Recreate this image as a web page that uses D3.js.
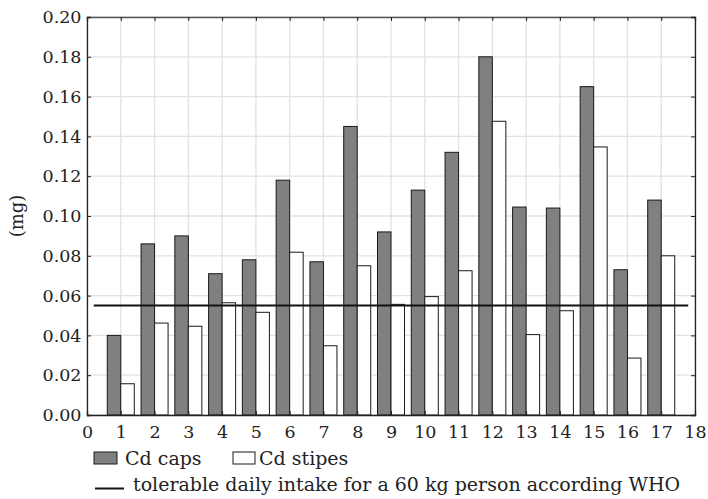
<!DOCTYPE html>
<html>
<head>
<meta charset="utf-8">
<script src="https://cdn.jsdelivr.net/npm/d3@7"></script>
<style>
  body { margin: 0; background: #fff; }
  svg text { font-family: "DejaVu Serif", "Liberation Serif", serif; fill: #222; }
</style>
</head>
<body>
<div id="chart"></div>
<script>
// sample numbers on x axis
var samples = [1, 2, 3, 4, 5, 6, 7, 8, 9, 10, 11, 12, 13, 14, 15, 16, 17];
// Cd content (mg)
var capsValues = [0.040, 0.086, 0.090, 0.071, 0.078, 0.118, 0.077, 0.145, 0.092,
                  0.113, 0.132, 0.180, 0.1045, 0.104, 0.165, 0.073, 0.108];
var stipesValues = [0.0157, 0.0462, 0.0446, 0.0564, 0.0516, 0.0818, 0.0348, 0.075, 0.0556,
                    0.0595, 0.0725, 0.1476, 0.0404, 0.0524, 0.1347, 0.0286, 0.080];
var whoLimit = 0.055;
var whoRange = [0.2, 17.8];
var xTicks = d3.range(0, 19);
var yTicks = [0, 0.02, 0.04, 0.06, 0.08, 0.10, 0.12, 0.14, 0.16, 0.18, 0.20];

var W = 708, H = 499;
var margin = { top: 17, right: 13, bottom: 84, left: 87 };
var innerW = W - margin.left - margin.right;
var innerH = H - margin.top - margin.bottom;

var svg = d3.select("#chart").append("svg")
    .attr("width", W)
    .attr("height", H);

var g = svg.append("g")
    .attr("transform", "translate(" + margin.left + "," + margin.top + ")");

var x = d3.scaleLinear().domain([0, 18]).range([0, innerW]);
var y = d3.scaleLinear().domain([0, 0.2]).range([innerH, 0]);
var barW = 0.4;

// grid
g.append("g").selectAll("line")
    .data(xTicks)
    .enter().append("line")
    .attr("x1", function(d) { return x(d); })
    .attr("x2", function(d) { return x(d); })
    .attr("y1", 0)
    .attr("y2", innerH)
    .attr("stroke", "#e2e2e2")
    .attr("stroke-width", 1.3);

g.append("g").selectAll("line")
    .data(yTicks)
    .enter().append("line")
    .attr("x1", 0)
    .attr("x2", innerW)
    .attr("y1", function(d) { return y(d); })
    .attr("y2", function(d) { return y(d); })
    .attr("stroke", "#e2e2e2")
    .attr("stroke-width", 1.3);

// caps bars
g.append("g").selectAll("rect")
    .data(capsValues)
    .enter().append("rect")
    .attr("x", function(d, i) { return x(samples[i] - barW); })
    .attr("y", function(d) { return y(d); })
    .attr("width", x(barW) - x(0))
    .attr("height", function(d) { return innerH - y(d); })
    .attr("fill", "#808080")
    .attr("stroke", "#1a1a1a")
    .attr("stroke-width", 1);

// stipes bars
g.append("g").selectAll("rect")
    .data(stipesValues)
    .enter().append("rect")
    .attr("x", function(d, i) { return x(samples[i]); })
    .attr("y", function(d) { return y(d); })
    .attr("width", x(barW) - x(0))
    .attr("height", function(d) { return innerH - y(d); })
    .attr("fill", "#fff")
    .attr("stroke", "#1a1a1a")
    .attr("stroke-width", 1);

// WHO line
g.append("line")
    .attr("x1", x(whoRange[0]))
    .attr("x2", x(whoRange[1]))
    .attr("y1", y(whoLimit))
    .attr("y2", y(whoLimit))
    .attr("stroke", "#111")
    .attr("stroke-width", 2);

// frame with inward ticks
var xAxisB = g.append("g")
    .attr("transform", "translate(0," + innerH + ")")
    .call(d3.axisBottom(x).tickValues(xTicks).tickSize(-4).tickPadding(11).tickFormat(d3.format("d")));
var xAxisT = g.append("g")
    .call(d3.axisTop(x).tickValues(xTicks).tickSize(-4).tickFormat(""));
var yAxisL = g.append("g")
    .call(d3.axisLeft(y).tickValues(yTicks).tickSize(-4).tickPadding(5.5).tickFormat(d3.format(".2f")));
var yAxisR = g.append("g")
    .attr("transform", "translate(" + innerW + ",0)")
    .call(d3.axisRight(y).tickValues(yTicks).tickSize(-4).tickFormat(""));

[xAxisB, xAxisT, yAxisL, yAxisR].forEach(function(a) {
    a.select(".domain").attr("stroke", "#222").attr("stroke-width", 1.3);
    a.selectAll(".tick line").attr("stroke", "#222");
    a.selectAll("text").attr("font-size", 17.5).attr("fill", "#222");
});
xAxisT.select(".domain").attr("stroke", "#555");

// y label
svg.append("text")
    .attr("transform", "translate(23," + (margin.top + innerH / 2) + ") rotate(-90)")
    .attr("text-anchor", "middle")
    .attr("font-size", 18)
    .text("(mg)");

// legend
var legend = svg.append("g");
legend.append("rect")
    .attr("x", 94).attr("y", 452).attr("width", 23).attr("height", 12)
    .attr("fill", "#808080").attr("stroke", "#1a1a1a");
legend.append("text")
    .attr("x", 125).attr("y", 465).attr("font-size", 19)
    .text("Cd caps");
legend.append("rect")
    .attr("x", 233).attr("y", 452).attr("width", 22).attr("height", 12)
    .attr("fill", "#fff").attr("stroke", "#1a1a1a");
legend.append("text")
    .attr("x", 259).attr("y", 465).attr("font-size", 19)
    .text("Cd stipes");
legend.append("line")
    .attr("x1", 95).attr("x2", 124).attr("y1", 488.5).attr("y2", 488.5)
    .attr("stroke", "#111").attr("stroke-width", 2);
legend.append("text")
    .attr("x", 133).attr("y", 491).attr("font-size", 19)
    .text("tolerable daily intake for a 60 kg person according WHO");
</script>
</body>
</html>
